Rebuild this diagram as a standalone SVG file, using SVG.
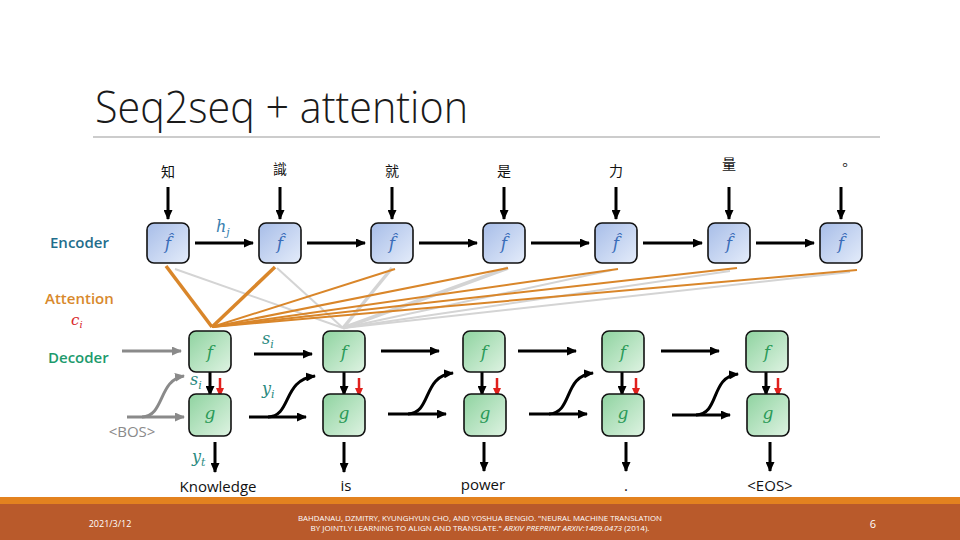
<svg xmlns="http://www.w3.org/2000/svg" width="960" height="540" viewBox="0 0 960 540">
<style>
.lbl{font-family:"Open Sans","Liberation Sans",sans-serif;font-size:15px}
.cjk{font-family:"Noto Sans CJK TC","Noto Sans CJK SC",sans-serif;font-size:14px;fill:#111}
.math{font-family:"DejaVu Serif","Liberation Serif",serif;font-style:italic}
.enc{fill:url(#gb);stroke:#111;stroke-width:1.6}
.dec{fill:url(#gg);stroke:#111;stroke-width:1.6}
.ef{font-family:"DejaVu Serif",serif;font-style:italic;font-size:17px;fill:#3a6cb8}
.df{font-family:"DejaVu Serif",serif;font-style:italic;font-size:17px;fill:#2b9a58}
.arr{stroke:#000;stroke-width:3;fill:none;marker-end:url(#ah)}
.garr{stroke:#8a8a8a;stroke-width:3;fill:none;marker-end:url(#ahg)}
.rarr{stroke:#e0201c;stroke-width:2.5;fill:none;marker-end:url(#ahr)}
.ao{stroke:#d9862a;stroke-width:2;fill:none}
.aot{stroke:#d9862a;stroke-width:3.5;fill:none}
.ag{stroke:#d4d4d4;stroke-width:2;fill:none}
.agt{stroke:#d4d4d4;stroke-width:3.5;fill:none}
.teal{fill:#2a8a80}
.foot{font-family:"Open Sans","Liberation Sans",sans-serif;fill:#fff}
</style>
<defs>
<linearGradient id="gb" x1="0" y1="0" x2="1" y2="1"><stop offset="0" stop-color="#a7bde8"/><stop offset="1" stop-color="#e4ecfa"/></linearGradient>
<linearGradient id="gg" x1="0" y1="0" x2="1" y2="1"><stop offset="0" stop-color="#8fd3a0"/><stop offset="1" stop-color="#def3e2"/></linearGradient>
<marker id="ah" markerUnits="userSpaceOnUse" markerWidth="10" markerHeight="9" refX="9" refY="4.5" orient="auto"><path d="M0,0 L10,4.5 L0,9 z" fill="#000"/></marker>
<marker id="ahg" markerUnits="userSpaceOnUse" markerWidth="10" markerHeight="9" refX="9" refY="4.5" orient="auto"><path d="M0,0 L10,4.5 L0,9 z" fill="#8a8a8a"/></marker>
<marker id="ahr" markerUnits="userSpaceOnUse" markerWidth="9" markerHeight="8" refX="8" refY="4" orient="auto"><path d="M0,0 L9,4 L0,8 z" fill="#e0201c"/></marker>
</defs>
<rect width="960" height="540" fill="#fff"/>
<text x="95" y="123" font-family="'Open Sans','Liberation Sans',sans-serif" font-weight="300" font-size="44" fill="#1a1a1a" textLength="373" lengthAdjust="spacingAndGlyphs">Seq2seq + attention</text>
<line x1="93" y1="137" x2="880" y2="137" stroke="#9a9a9a" stroke-width="1.2"/>
<text class="lbl" x="50" y="248" fill="#1f6e8c" font-weight="600">Encoder</text>
<text class="lbl" x="45" y="304" fill="#d8892c" font-weight="600">Attention</text>
<text class="math" x="71" y="325" font-size="15" fill="#d9262a">c<tspan font-size="10" dy="3">i</tspan></text>
<text class="lbl" x="48" y="363" fill="#1d9a6c" font-weight="600">Decoder</text>
<text class="lbl" x="132" y="437" fill="#8a8a8a" text-anchor="middle">&lt;BOS&gt;</text>
<g id="connectors">
<path class="agt" d="M392,268 L343,328"/>
<path class="ag" d="M175,269 L343,328"/>
<path class="ag" d="M277,268 L343,328"/>
<path class="agt" d="M508,268 L343,328"/>
<path class="ag" d="M612,270 L343,328"/>
<path class="ag" d="M730,271 L343,328"/>
<path class="ag" d="M850,272 L343,328"/>
<path class="aot" d="M166,266 L212,327"/>
<path class="aot" d="M275,267 L212,327"/>
<path class="ao" d="M395,269 L212,327"/>
<path class="ao" d="M508,268 L212,327"/>
<path class="ao" d="M618,269 L212,327"/>
<path class="ao" d="M737,268 L212,327"/>
<path class="ao" d="M857,270 L212,327"/>
<path class="arr" d="M168,187 V219"/>
<path class="arr" d="M280,187 V219"/>
<path class="arr" d="M392,187 V219"/>
<path class="arr" d="M504,187 V219"/>
<path class="arr" d="M616,187 V219"/>
<path class="arr" d="M729,187 V219"/>
<path class="arr" d="M841,187 V219"/>
<path class="arr" d="M195,243 H253"/>
<path class="arr" d="M307,243 H365"/>
<path class="arr" d="M419,243 H477"/>
<path class="arr" d="M531,243 H589"/>
<path class="arr" d="M643,243 H702"/>
<path class="arr" d="M756,243 H814"/>
<path class="garr" d="M122,351 H181"/>
<path class="garr" d="M127,417 H184"/>
<path class="garr" d="M142,417 C165,416 158,380 184,376"/>
<path class="arr" d="M254,354 H312"/>
<path class="arr" d="M381,351 H439"/>
<path class="arr" d="M518,351 H576"/>
<path class="arr" d="M661,351 H719"/>
<path class="arr" d="M249,417 H306"/>
<path class="arr" d="M268,417 C292,416 282,380 315,376"/>
<path class="arr" d="M388,414 H446"/>
<path class="arr" d="M408,414 C432,413 422,376 453,373"/>
<path class="arr" d="M529,414 H587"/>
<path class="arr" d="M549,414 C573,413 563,376 593,373"/>
<path class="arr" d="M672,415 H730"/>
<path class="arr" d="M696,415 C720,414 710,377 738,374"/>
<path class="arr" d="M210,372 V395"/>
<path class="arr" d="M344,372 V395"/>
<path class="arr" d="M482,372 V395"/>
<path class="arr" d="M622,372 V395"/>
<path class="arr" d="M766,372 V395"/>
<path class="rarr" d="M220,378 V396"/>
<path class="rarr" d="M359,378 V396"/>
<path class="rarr" d="M497,378 V396"/>
<path class="rarr" d="M636,378 V396"/>
<path class="rarr" d="M778,378 V396"/>
<path class="arr" d="M215,442 V472"/>
<path class="arr" d="M344,442 V472"/>
<path class="arr" d="M484,442 V471"/>
<path class="arr" d="M626,442 V471"/>
<path class="arr" d="M770,442 V471"/>
</g>
<text class="math" x="216" y="232" font-size="16" fill="#3a7fb0">h<tspan font-size="11" dy="4">j</tspan></text>
<text class="math teal" x="262" y="344" font-size="16">s<tspan font-size="11" dy="4">i</tspan></text>
<text class="math teal" x="190" y="385" font-size="16">s<tspan font-size="11" dy="4">i</tspan></text>
<text class="math teal" x="262" y="394" font-size="16">y<tspan font-size="11" dy="4">i</tspan></text>
<text class="math teal" x="192" y="462" font-size="16">y<tspan font-size="11" dy="4">t</tspan></text>
<g id="enc1"><text class="cjk" x="168" y="177" text-anchor="middle">知</text><rect class="enc" x="147" y="223" width="42" height="40" rx="7"/><text class="ef" x="168" y="249" text-anchor="middle">f̂</text></g>
<g id="enc2"><text class="cjk" x="280" y="174" text-anchor="middle">識</text><rect class="enc" x="259" y="223" width="42" height="40" rx="7"/><text class="ef" x="280" y="249" text-anchor="middle">f̂</text></g>
<g id="enc3"><text class="cjk" x="392" y="176" text-anchor="middle">就</text><rect class="enc" x="371" y="223" width="42" height="40" rx="7"/><text class="ef" x="392" y="249" text-anchor="middle">f̂</text></g>
<g id="enc4"><text class="cjk" x="504" y="176" text-anchor="middle">是</text><rect class="enc" x="483" y="223" width="42" height="40" rx="7"/><text class="ef" x="504" y="249" text-anchor="middle">f̂</text></g>
<g id="enc5"><text class="cjk" x="616" y="176" text-anchor="middle">力</text><rect class="enc" x="595" y="223" width="42" height="40" rx="7"/><text class="ef" x="616" y="249" text-anchor="middle">f̂</text></g>
<g id="enc6"><text class="cjk" x="729" y="169" text-anchor="middle">量</text><rect class="enc" x="708" y="223" width="42" height="40" rx="7"/><text class="ef" x="729" y="249" text-anchor="middle">f̂</text></g>
<g id="enc7"><text class="cjk" x="845" y="170" text-anchor="middle">。</text><rect class="enc" x="820" y="223" width="42" height="40" rx="7"/><text class="ef" x="841" y="249" text-anchor="middle">f̂</text></g>
<g id="dec1"><rect class="dec" x="189" y="331" width="42" height="41" rx="7"/><text class="df" x="210" y="358" text-anchor="middle">f</text><rect class="dec" x="189" y="394" width="42" height="42" rx="7"/><text class="df" x="210" y="419" text-anchor="middle">g</text><text class="lbl" x="218" y="492" text-anchor="middle" fill="#111">Knowledge</text></g>
<g id="dec2"><rect class="dec" x="323" y="331" width="42" height="41" rx="7"/><text class="df" x="344" y="358" text-anchor="middle">f</text><rect class="dec" x="323" y="394" width="42" height="42" rx="7"/><text class="df" x="344" y="419" text-anchor="middle">g</text><text class="lbl" x="346" y="491" text-anchor="middle" fill="#111">is</text></g>
<g id="dec3"><rect class="dec" x="463" y="331" width="42" height="41" rx="7"/><text class="df" x="484" y="358" text-anchor="middle">f</text><rect class="dec" x="464" y="394" width="42" height="42" rx="7"/><text class="df" x="485" y="419" text-anchor="middle">g</text><text class="lbl" x="483" y="490" text-anchor="middle" fill="#111">power</text></g>
<g id="dec4"><rect class="dec" x="602" y="331" width="42" height="41" rx="7"/><text class="df" x="623" y="358" text-anchor="middle">f</text><rect class="dec" x="602" y="394" width="42" height="42" rx="7"/><text class="df" x="623" y="419" text-anchor="middle">g</text><text class="lbl" x="626" y="491" text-anchor="middle" fill="#111">.</text></g>
<g id="dec5"><rect class="dec" x="746" y="331" width="42" height="41" rx="7"/><text class="df" x="767" y="358" text-anchor="middle">f</text><rect class="dec" x="747" y="394" width="42" height="42" rx="7"/><text class="df" x="768" y="419" text-anchor="middle">g</text><text class="lbl" x="770" y="491" text-anchor="middle" fill="#111">&lt;EOS&gt;</text></g>
<rect x="0" y="497" width="960" height="7" fill="#e3821f"/>
<rect x="0" y="504" width="960" height="36" fill="#b95a2b"/>
<text class="foot" x="110" y="527" font-size="9" text-anchor="middle">2021/3/12</text>
<text class="foot" x="480" y="521" font-size="7" text-anchor="middle" textLength="364" lengthAdjust="spacingAndGlyphs">BAHDANAU, DZMITRY, KYUNGHYUN CHO, AND YOSHUA BENGIO. "NEURAL MACHINE TRANSLATION</text>
<text class="foot" x="480" y="531" font-size="7" text-anchor="middle" textLength="339" lengthAdjust="spacingAndGlyphs">BY JOINTLY LEARNING TO ALIGN AND TRANSLATE." <tspan font-style="italic">ARXIV PREPRINT ARXIV:1409.0473</tspan> (2014).</text>
<text class="foot" x="873" y="528" font-size="11" text-anchor="middle">6</text>
</svg>
